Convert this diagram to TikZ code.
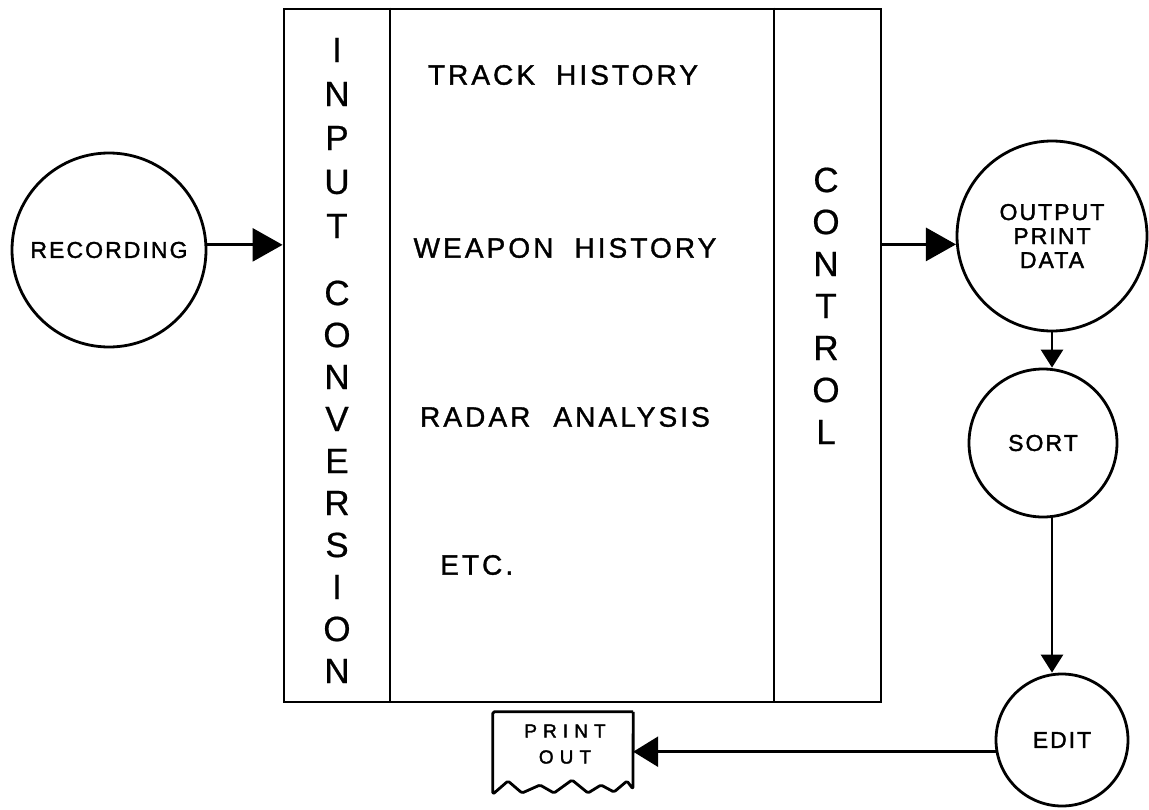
\documentclass[tikz,border=0pt]{standalone}
\usepackage{fontspec}
\setmainfont{Liberation Sans}
\newfontfamily\midfont[LetterSpace=11,FakeBold=1.2]{Liberation Sans}
\newfontfamily\circfont[LetterSpace=9,FakeBold=1.6]{Liberation Sans}
\newfontfamily\vertfont[FakeBold=0.6]{Liberation Sans}
\newfontfamily\smallfont[LetterSpace=32,FakeBold=1.8]{Liberation Sans}
\usetikzlibrary{arrows.meta}
\begin{document}
\begin{tikzpicture}[x=1pt,y=-1pt,
  lw/.style={line width=2.8pt},
  proc/.style={circle,draw,lw,inner sep=0pt,align=center,
    font=\circfont\fontsize{23}{24}\selectfont},
  bigtip/.style={-{Triangle[length=30pt,width=33pt]}},
  smalltip/.style={-{Triangle[length=18pt,width=22pt]}},
  midtip/.style={-{Triangle[length=25pt,width=30pt]}},
  midtext/.style={font=\midfont\fontsize{28}{30}\selectfont,inner sep=0pt},
  vlet/.style={font=\vertfont\fontsize{35}{36}\selectfont,inner sep=0pt},
  ptext/.style={font=\smallfont\fontsize{19}{20}\selectfont,inner sep=0pt},
]
\useasboundingbox (0,0) rectangle (1149,809);
\fill[white] (0,0) rectangle (1149,809);

% main box
\node[draw,lw,minimum width=597pt,minimum height=693pt,inner sep=0pt] (main) at (582.5,355.5) {};
\coordinate (dv1) at (390,0);
\coordinate (dv2) at (774,0);
\draw[lw] (dv1 |- main.north) -- (dv1 |- main.south);
\draw[lw] (dv2 |- main.north) -- (dv2 |- main.south);

% vertical labels
\foreach \l/\y [count=\i] in {I/50,N/94,P/138,U/182,T/226,C/293,O/335,N/377,V/419,E/461,R/503,S/545,I/587,O/629,N/671}
  \node[vlet] (in\i) at (337,\y) {\l};
\foreach \l/\y [count=\i] in {C/180,O/222,N/264,T/306,R/348,O/390,L/432}
  \node[vlet] (ct\i) at (826,\y) {\l};

% middle texts
\node[midtext] (t1) at (563,75) {TRACK\hspace{21pt}HISTORY};
\node[midtext] (t2) at (565,248) {WEAPON\hspace{21pt}HISTORY};
\node[midtext] (t3) at (565,417) {RADAR\hspace{23pt}ANALYSIS};
\node[midtext,anchor=west] (t4) at (440,565) {ETC.};

% circles
\node[proc,minimum size=194pt] (rec) at (109,250) {RECORDING};
\node[proc,minimum size=190pt] (out) at (1052,236) {OU\hspace{2pt}TPUT\\PRINT\\DATA};
\node[proc,minimum size=148pt] (sort) at (1043,443) {SORT};
\node[proc,minimum size=132pt] (edit) at (1062,740) {E\hspace{2pt}D\hspace{2pt}I\hspace{2pt}T};

% print out
\node[minimum width=140pt,minimum height=82pt,inner sep=0pt] (pout) at (563,753) {};
\node[ptext] (pt1) at (565,731) {PRINT};
\node[ptext] (pt2) at (565,757) {OUT};
\draw[lw,line join=round,rounded corners=1.5pt]
  (pout.north east) -- (pout.north west) -- (pout.south west)
  -- (508,781) -- (522,793) -- (540,785) -- (554,793) -- (572,780)
  -- (588,793) -- (601,785) -- (614,792) -- (627,781) -- (633,789)
  -- (pout.north east);

% connectors
\draw[lw,bigtip] (rec.3) -- (rec.3 -| main.west);
\draw[lw,bigtip] (out.185 -| main.east) -- (out.185);
\draw[lw,smalltip] (out.south) -- (out.south |- sort.north);
\draw[lw,smalltip] (sort.south -| out.south) -- (edit.north -| out.south);
\draw[lw,midtip] (edit.190) -- (edit.190 -| pout.east);
\end{tikzpicture}
\end{document}
